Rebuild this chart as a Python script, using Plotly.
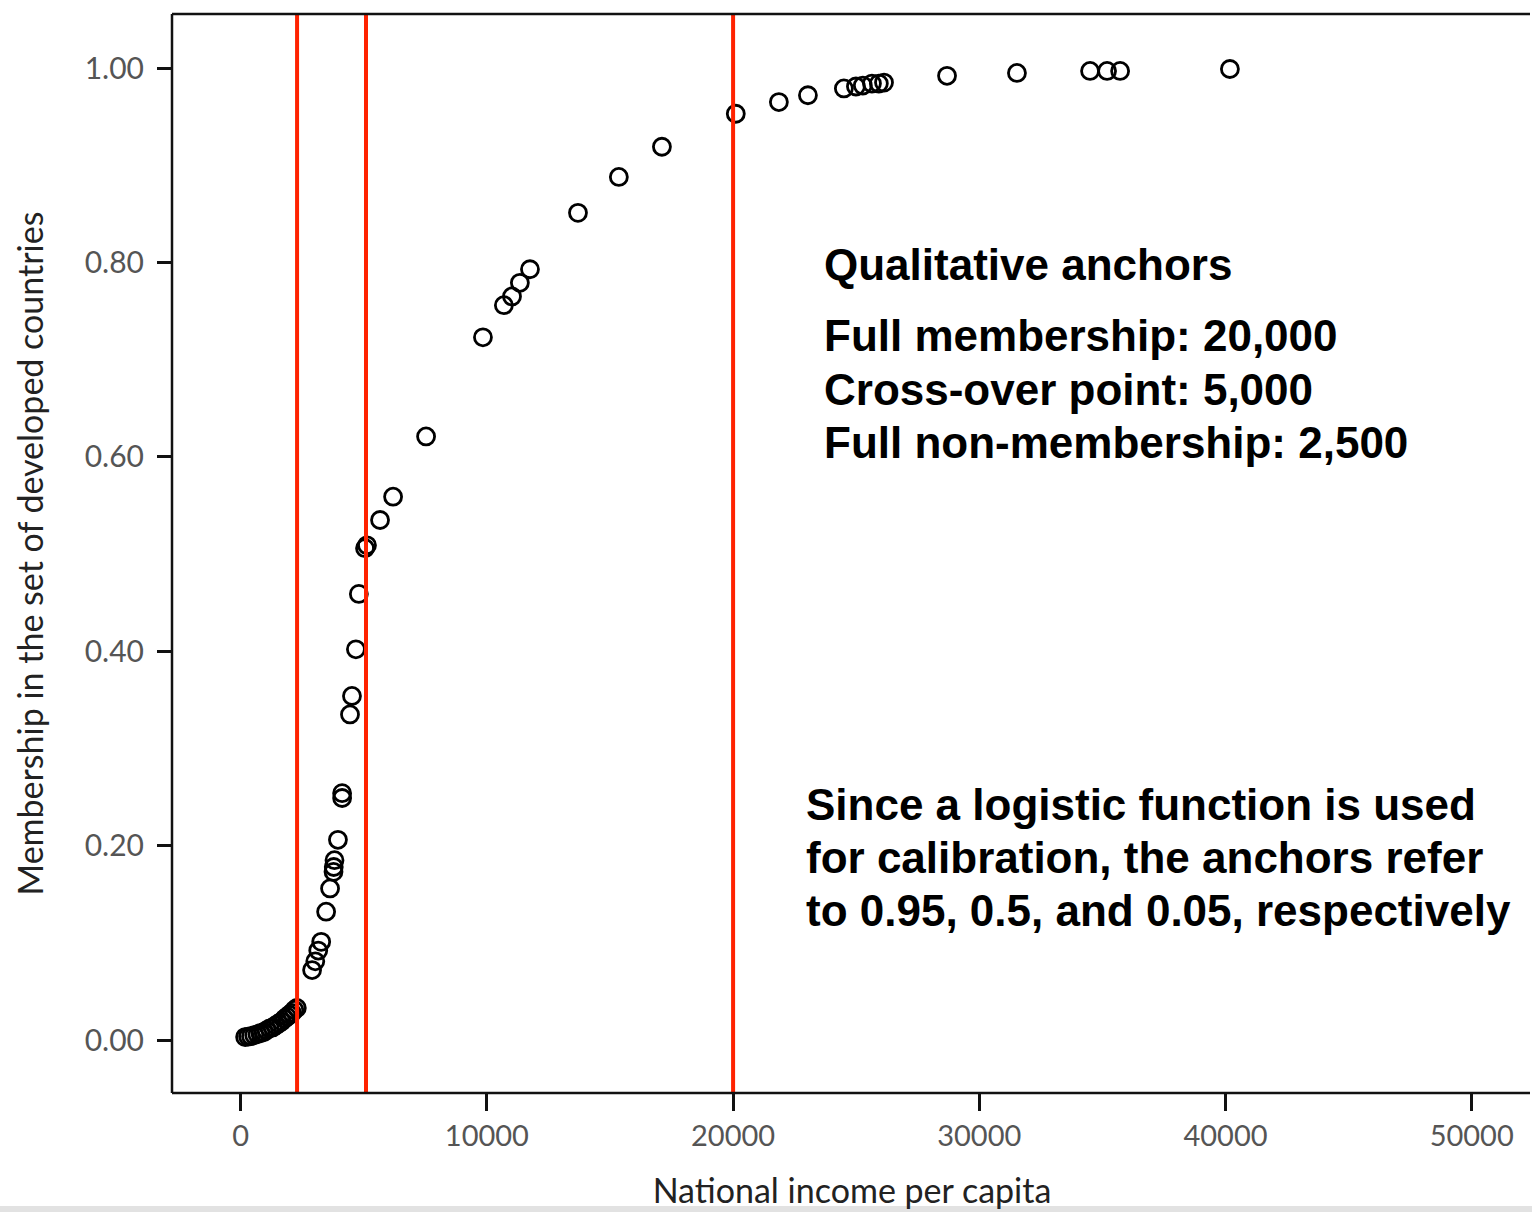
import plotly.graph_objects as go

# ---- data ----
income = [180, 300, 420, 550, 680, 800, 930, 1050, 1180, 1300, 1420, 1540, 1660, 1780,
          1880, 1980, 2080, 2180, 2280,
          2900, 3030, 3150, 3270, 3470, 3630, 3770, 3780, 3810, 3950, 4120, 4120,
          4440, 4520, 4680, 4800, 5050, 5130, 5660, 6190, 7530, 9840, 10690, 11020,
          11340, 11750, 13700, 15360, 17110, 20110, 21860, 23040, 24500, 24990, 25270,
          25640, 25920, 26130, 28690, 31530, 34500, 35190, 35720, 40180]
membership = [0.003, 0.0035, 0.004, 0.005, 0.006, 0.007, 0.008, 0.010, 0.012, 0.013,
              0.015, 0.017, 0.019, 0.022, 0.024, 0.026, 0.028, 0.031, 0.033,
              0.072, 0.081, 0.092, 0.101, 0.132, 0.156, 0.173, 0.178, 0.185, 0.206,
              0.249, 0.254, 0.335, 0.354, 0.402, 0.459, 0.506, 0.509, 0.535, 0.559,
              0.621, 0.723, 0.756, 0.765, 0.779, 0.793, 0.851, 0.888, 0.919, 0.953,
              0.965, 0.972, 0.979, 0.981, 0.982, 0.984, 0.984, 0.985, 0.992, 0.995,
              0.997, 0.997, 0.997, 0.999]
anchor_lines = [2290, 5090, 20000]

x_ticks = [0, 10000, 20000, 30000, 40000, 50000]
y_ticks = [0.0, 0.2, 0.4, 0.6, 0.8, 1.0]

anchor_text = ["Qualitative anchors", "Full membership: 20,000",
               "Cross-over point: 5,000", "Full non-membership: 2,500"]
note_text = ["Since a logistic function is used", "for calibration, the anchors refer",
             "to 0.95, 0.5, and 0.05, respectively"]

W, H = 1533, 1212
L, R, T, B = 172, 1, 14, 119
pw, ph = W - L - R, H - T - B

def px(x):
    return (x - L) / pw

def py(y):
    return (H - B - y) / ph

x_right = px(1530)

fig = go.Figure()
fig.add_trace(go.Scatter(
    x=income, y=membership, mode="markers",
    marker=dict(symbol="circle-open", size=17, color="black", line=dict(width=2.8, color="black")),
    showlegend=False, cliponaxis=False))

for a in anchor_lines:
    fig.add_shape(type="line", x0=a, x1=a, xref="x", y0=0, y1=1, yref="paper",
                  line=dict(color="#ff2200", width=4), layer="above")

# frame: left, bottom, top (right side runs off the picture)
frame = dict(color="#111", width=2.5)
fig.add_shape(type="line", xref="paper", yref="paper", x0=0, x1=0, y0=0, y1=1, line=frame)
fig.add_shape(type="line", xref="paper", yref="paper", x0=0, x1=x_right, y0=0, y1=0, line=frame)
fig.add_shape(type="line", xref="paper", yref="paper", x0=0, x1=x_right, y0=1, y1=1, line=frame)

annotations = []
anchor_y = [265, 335, 389, 442]
for t, yy in zip(anchor_text, anchor_y):
    annotations.append(dict(text="<b>%s</b>" % t, x=px(822), y=py(yy), xref="paper", yref="paper",
                            xanchor="left", yanchor="middle", showarrow=False,
                            font=dict(family="Liberation Sans", size=44, color="black")))
note_y = [805, 857, 910]
for t, yy in zip(note_text, note_y):
    annotations.append(dict(text="<b>%s</b>" % t, x=px(804), y=py(yy), xref="paper", yref="paper",
                            xanchor="left", yanchor="middle", showarrow=False,
                            font=dict(family="Liberation Sans", size=44, color="black")))

fig.update_layout(
    width=W, height=H,
    margin=dict(l=L, r=R, t=T, b=B, pad=0),
    paper_bgcolor="white", plot_bgcolor="white",
    annotations=annotations,
    xaxis=dict(range=[-2790, 52450], tickvals=x_ticks, ticktext=[str(v) for v in x_ticks],
               showgrid=False, zeroline=False, showline=False,
               ticks="outside", ticklen=17, tickwidth=2.5, tickcolor="#111",
               tickfont=dict(family="Lato", size=29, color="#555"),
               title=dict(text="National income per capita", standoff=28,
                          font=dict(family="Lato", size=34, color="#222"))),
    yaxis=dict(range=[-0.0545, 1.0556], tickvals=y_ticks, ticktext=["%.2f" % v for v in y_ticks],
               showgrid=False, zeroline=False, showline=False,
               ticks="outside", ticklen=14, tickwidth=2.5, tickcolor="#111",
               ticklabelstandoff=7,
               tickfont=dict(family="Lato", size=30, color="#555"),
               title=dict(text="Membership in the set of developed countries", standoff=30,
                          font=dict(family="Lato", size=34, color="#222"))),
)

# thin grey strip at the very bottom of the picture
fig.add_shape(type="rect", xref="paper", yref="paper", x0=px(0), x1=px(1532),
              y0=py(1212), y1=py(1206), fillcolor="#e2e2e2", line=dict(width=0), layer="above")

fig.write_html("out.html")
